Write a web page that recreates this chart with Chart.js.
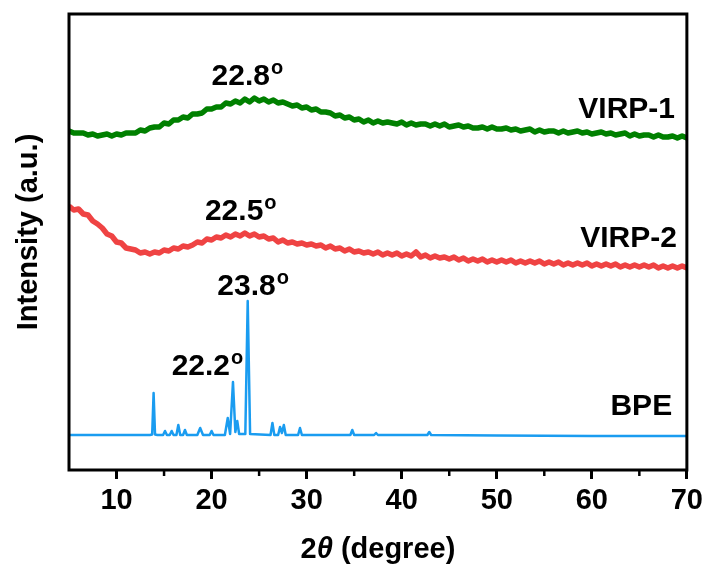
<!DOCTYPE html>
<html><head><meta charset="utf-8">
<script src="https://cdn.jsdelivr.net/npm/chart.js@4.4.1/dist/chart.umd.min.js"></script>
<style>html,body{margin:0;padding:0;background:#fff}#wrap{width:708px;height:568px;position:relative}</style>
</head><body><div id="wrap"><canvas id="c"></canvas></div>
<script>
// 2θ grid for the amorphous patterns (degrees)
const angles = [5,5.5,6,6.5,7,7.5,8,8.5,9,9.5,10,10.5,11,11.5,12,12.5,13,13.5,14,14.5,15,15.5,16,16.5,17,17.5,18,18.5,19,19.5,20,20.5,21,21.5,22,22.5,23,23.5,24,24.5,25,25.5,26,26.5,27,27.5,28,28.5,29,29.5,30,30.5,31,31.5,32,32.5,33,33.5,34,34.5,35,35.5,36,36.5,37,37.5,38,38.5,39,39.5,40,40.5,41,41.5,42,42.5,43,43.5,44,44.5,45,45.5,46,46.5,47,47.5,48,48.5,49,49.5,50,50.5,51,51.5,52,52.5,53,53.5,54,54.5,55,55.5,56,56.5,57,57.5,58,58.5,59,59.5,60,60.5,61,61.5,62,62.5,63,63.5,64,64.5,65,65.5,66,66.5,67,67.5,68,68.5,69,69.5,70];
// VIRP-1 intensity (a.u., offset)
const virp1 = [339,337,337,337,335,336,334,335,336,334,336,335,337,337,337,340,339,342,343,343,347,346,350,350,353,352,356,356,357,361,361,363,363,367,366,369,367,371,368,372,369,371,368,370,367,368,366,364,365,362,363,360,361,358,358,357,354,355,352,353,350,351,348,350,347,349,347,348,347,346,348,345,347,345,346,346,344,346,344,346,343,344,345,343,344,342,342,343,341,343,341,341,342,340,341,339,340,341,338,340,338,339,339,337,339,337,338,339,337,338,336,337,338,336,337,335,336,337,334,336,334,335,335,333,335,333,333,334,332,334,332];
// VIRP-2 intensity (a.u., offset)
const virp2 = [264,260,261,256,255,249,246,242,236,234,228,227,222,221,220,217,218,216,218,217,220,219,222,221,224,223,225,228,227,231,230,233,232,235,233,236,234,237,234,236,233,234,231,232,228,230,227,228,226,227,225,226,224,225,222,224,221,222,219,221,218,219,217,218,216,218,215,217,215,217,214,216,214,218,213,215,212,214,212,213,211,213,210,212,209,211,209,211,208,210,208,210,208,210,207,209,207,209,207,209,206,208,206,208,205,207,205,207,205,207,204,206,204,206,204,206,203,205,203,205,203,205,203,205,202,204,202,204,202,204,202];
// BPE crystalline pattern (2θ, intensity)
const bpeX = [5,8,10,12,13.5,13.75,13.9,14.05,14.3,14.9,15.1,15.3,15.6,15.8,16.0,16.3,16.5,16.7,17.0,17.2,17.4,18.5,18.8,19.1,19.8,20.0,20.2,21.4,21.7,21.95,22.25,22.5,22.7,22.9,23.55,23.8,24.05,26.2,26.4,26.6,27.0,27.2,27.4,27.6,27.8,29.1,29.3,29.5,34.6,34.8,35.0,37.1,37.3,37.5,42.7,42.9,43.1,50,60,70];
const bpeY = [35,35,35,35,35,35.5,77,35.5,35,35,39,35,35,39,35,35,45,35,35,40,35,35,42,35,35,39,35,35,52,36,88,38,49,36,36,169,36,35,47,35,35,43,37,45,35,35,42,35,35,40,35,35,37,35,35,38,35,34.5,34,34];
// axis ticks
const majorTicks = [10,20,30,40,50,60,70];
const minorTicks = [15,25,35,45,55,65];
// peak annotations: text, 2θ (left edge), intensity (baseline)
const peakText = ['22.8','22.5','23.8','22.2'];
const peakX = [20.0,19.3,20.6,15.8];
const peakY = [385,250,175,95];
// series name labels (right aligned)
const nameText = ['VIRP-1','VIRP-2','BPE'];
const nameX = [68.75,68.95,68.45];
const nameY = [352,223,55];

const FONT = '"Liberation Sans", Arial, Helvetica, sans-serif';

const decor = {
  id: 'decor',
  afterDraw(chart) {
    const {ctx, chartArea: a, scales: {x, y}} = chart;
    ctx.save();
    ctx.strokeStyle = '#000';
    ctx.lineWidth = 3;
    ctx.strokeRect(a.left, a.top, a.right - a.left, a.bottom - a.top);
    ctx.lineWidth = 2.5;
    minorTicks.forEach(v => {
      const px = x.getPixelForValue(v);
      ctx.beginPath(); ctx.moveTo(px, a.bottom); ctx.lineTo(px, a.bottom + 6); ctx.stroke();
    });
    ctx.fillStyle = '#000';
    ctx.textBaseline = 'alphabetic';
    peakText.forEach((t, i) => {
      const px = x.getPixelForValue(peakX[i]);
      const py = y.getPixelForValue(peakY[i]);
      ctx.font = 'bold 30px ' + FONT;
      ctx.textAlign = 'left';
      ctx.fillText(t, px, py);
      const w = ctx.measureText(t).width;
      ctx.font = 'bold 20px ' + FONT;
      ctx.fillText('o', px + w + 1, py - 11);
    });
    ctx.font = 'bold 30px ' + FONT;
    ctx.textAlign = 'right';
    nameText.forEach((t, i) => {
      ctx.fillText(t, x.getPixelForValue(nameX[i]), y.getPixelForValue(nameY[i]));
    });
    // y axis title
    ctx.save();
    ctx.translate(29, (a.top + a.bottom) / 2 - 10);
    ctx.rotate(-Math.PI / 2);
    ctx.textAlign = 'center';
    ctx.textBaseline = 'middle';
    ctx.font = 'bold 29px ' + FONT;
    ctx.fillText('Intensity (a.u.)', 0, 0);
    ctx.restore();
    // x axis title with italic theta
    const parts = [['2', 'bold 29px '], ['\u03B8', 'italic bold 29px '], [' (degree)', 'bold 29px ']];
    let total = 0;
    parts.forEach(p => { ctx.font = p[1] + FONT; total += ctx.measureText(p[0]).width; });
    let cx = (a.left + a.right) / 2 - total / 2;
    ctx.textAlign = 'left';
    ctx.textBaseline = 'alphabetic';
    parts.forEach(p => { ctx.font = p[1] + FONT; ctx.fillText(p[0], cx, 558); cx += ctx.measureText(p[0]).width; });
    ctx.restore();
  }
};

new Chart(document.getElementById('c'), {
  type: 'line',
  data: {
    datasets: [
      {label: 'VIRP-1', data: angles.map((a, i) => ({x: a, y: virp1[i]})), borderColor: '#008000', borderWidth: 5.5, pointRadius: 0, tension: 0, borderJoinStyle: 'round'},
      {label: 'VIRP-2', data: angles.map((a, i) => ({x: a, y: virp2[i]})), borderColor: '#ef4343', borderWidth: 5.5, pointRadius: 0, tension: 0, borderJoinStyle: 'round'},
      {label: 'BPE', data: bpeX.map((a, i) => ({x: a, y: bpeY[i]})), borderColor: '#1a9cf0', borderWidth: 2.5, pointRadius: 0, tension: 0, borderJoinStyle: 'round'}
    ]
  },
  options: {
    responsive: true,
    maintainAspectRatio: false,
    animation: false,
    layout: {padding: {left: 69, top: 14, right: 21, bottom: 0}},
    plugins: {legend: {display: false}, tooltip: {enabled: false}},
    scales: {
      x: {
        type: 'linear', min: 5, max: 70,
        afterBuildTicks: s => { s.ticks = majorTicks.map(v => ({value: v})); },
        afterFit: s => { s.height = 98; },
        grid: {display: true, drawOnChartArea: false, drawTicks: true, tickLength: 9, tickWidth: 3, tickColor: '#000'},
        border: {display: false},
        ticks: {color: '#000', font: {family: FONT, size: 29, weight: 'bold'}, padding: 5, maxRotation: 0, autoSkip: false},
        title: {display: false}
      },
      y: {
        display: false, min: 0, max: 456
      }
    }
  },
  plugins: [decor]
});
</script>
</body></html>
